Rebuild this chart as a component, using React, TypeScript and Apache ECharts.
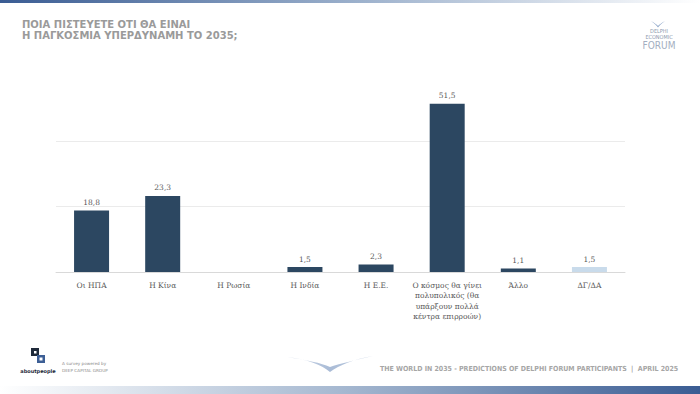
import React, { useEffect, useRef } from "react";
import * as echarts from "echarts";

const categories = [
  "Οι ΗΠΑ",
  "Η Κίνα",
  "Η Ρωσία",
  "Η Ινδία",
  "Η Ε.Ε.",
  "Ο κόσμος θα γίνει\nπολυπολικός (θα\nυπάρξουν πολλά\nκέντρα επιρροών)",
  "Άλλο",
  "ΔΓ/ΔΑ",
];
const values = [18.8, 23.3, 0, 1.5, 2.3, 51.5, 1.1, 1.5];
const barColors = ["#2c4761", "#2c4761", "#2c4761", "#2c4761", "#2c4761", "#2c4761", "#2c4761", "#c9dbeb"];
const titleLines = ["ΠΟΙΑ ΠΙΣΤΕΥΕΤΕ ΟΤΙ ΘΑ ΕΙΝΑΙ", "Η ΠΑΓΚΟΣΜΙΑ ΥΠΕΡΔΥΝΑΜΗ ΤΟ 2035;"];
const footerText = "THE WORLD IN 2035 - PREDICTIONS OF DELPHI FORUM PARTICIPANTS  |  APRIL 2025";

const swooshD = "M0,1 C20,3 35,9 43,16 C52,9 68,3 86,0 C68,4 52,8 43,11 C34,7 20,4 0,1 Z";
const chevronD = "M0,0 C4,2 6,4 7,5 C8,4 10,2 14,0 C10,3 8,5 7,6.5 C6,5 4,3 0,0 Z";
let registered = false;
function registerShapes() {
  if (registered) return;
  registered = true;
  echarts.graphic.registerShape("swoosh", echarts.graphic.extendPath(swooshD, {}) as any);
  echarts.graphic.registerShape("chevron", echarts.graphic.extendPath(chevronD, {}) as any);
}

export default function App() {
  const ref = useRef<HTMLDivElement>(null);
  useEffect(() => {
    if (!ref.current) return;
    registerShapes();
    const chart = echarts.init(ref.current, undefined, { renderer: "svg" });
    const serif = "'DejaVu Serif', serif";
    chart.setOption({
      animation: false,
      backgroundColor: "#ffffff",
      grid: { left: 56, right: 75, top: 76, bottom: 122 },
      xAxis: {
        type: "category",
        data: categories,
        axisLine: { show: true, lineStyle: { color: "#d9d9d9", width: 1 } },
        axisTick: { show: false },
        axisLabel: {
          fontSize: 7.5,
          color: "#595959",
          fontFamily: serif,
          lineHeight: 10.5,
          margin: 8,
          interval: 0,
        },
      },
      yAxis: {
        type: "value",
        min: 0,
        max: 60,
        interval: 20,
        axisLabel: { show: false },
        axisLine: { show: false },
        axisTick: { show: false },
        splitLine: {
          show: true,
          lineStyle: { color: ["rgba(0,0,0,0)", "#ebebeb", "#ebebeb", "rgba(0,0,0,0)"], width: 1 },
        },
      },
      series: [
        {
          type: "bar",
          barWidth: 35,
          data: values.map((v, i) => ({ value: v, itemStyle: { color: barColors[i] } })),
          label: {
            show: true,
            position: "top",
            distance: 4,
            fontSize: 7.5,
            fontFamily: serif,
            color: "#595959",
            formatter: (p: any) => (p.value ? String(p.value).replace(".", ",") : ""),
          },
        },
      ],
      graphic: [
        {
          type: "rect",
          shape: { x: 0, y: 0, width: 700, height: 3 },
          style: {
            fill: new echarts.graphic.LinearGradient(0, 0, 1, 0, [
              { offset: 0, color: "#3a5c93" },
              { offset: 0.5, color: "#9aafcb" },
              { offset: 1, color: "#ffffff" },
            ]),
          },
        },
        {
          type: "rect",
          shape: { x: 0, y: 386, width: 700, height: 8 },
          style: {
            fill: new echarts.graphic.LinearGradient(0, 0, 1, 0, [
              { offset: 0, color: "#ffffff" },
              { offset: 0.5, color: "#a3b6cf" },
              { offset: 1, color: "#3a5c93" },
            ]),
          },
        },
        {
          type: "text",
          x: 22,
          y: 19,
          style: {
            text: titleLines.join("\n"),
            fontFamily: "'DejaVu Sans', sans-serif",
            fontWeight: "bold",
            fontSize: 10,
            lineHeight: 11,
            fill: "#9a9a9a",
          },
        },
        // Delphi logo
        {
          type: "chevron",
          x: 651,
          y: 21,
          style: { fill: "#8aa3c7" },
        },
        {
          type: "text",
          x: 659,
          y: 28,
          style: {
            text: "DELPHI\nECONOMIC",
            fontFamily: "'DejaVu Sans Condensed', 'DejaVu Sans', sans-serif",
            fontSize: 5.5,
            lineHeight: 6,
            align: "center",
            fill: "#8c98ad",
          },
        },
        {
          type: "text",
          x: 659,
          y: 40,
          style: {
            text: "FORUM",
            fontFamily: "'DejaVu Sans Condensed', 'DejaVu Sans', sans-serif",
            fontSize: 10,
            fontWeight: 200,
            align: "center",
            fill: "#a3aec0",
          },
        },
        // aboutpeople logo
        { type: "rect", shape: { x: 31, y: 348, width: 8, height: 8 }, style: { fill: "#1f2a3a" } },
        { type: "rect", shape: { x: 34, y: 351, width: 2.5, height: 2.5 }, style: { fill: "#ffffff" } },
        { type: "rect", shape: { x: 37, y: 355, width: 8, height: 8 }, style: { fill: "#3d5f95" } },
        { type: "rect", shape: { x: 39.5, y: 357.5, width: 3, height: 3 }, style: { fill: "#ffffff" } },
        {
          type: "text",
          x: 38,
          y: 368,
          style: {
            text: "aboutpeople",
            fontFamily: "'DejaVu Sans', sans-serif",
            fontWeight: "bold",
            fontSize: 5,
            align: "center",
            fill: "#1f2a3a",
          },
        },
        {
          type: "text",
          x: 62,
          y: 360,
          style: {
            text: "A survey powered by\nDEEP CAPITAL GROUP",
            fontFamily: "'DejaVu Sans', sans-serif",
            fontSize: 4.2,
            lineHeight: 7,
            fill: "#8a8a8a",
          },
        },
        // swoosh
        {
          type: "swoosh",
          x: 287,
          y: 356,
          style: {
            fill: new echarts.graphic.LinearGradient(0, 0, 1, 0, [
              { offset: 0, color: "#d3dcea" },
              { offset: 0.5, color: "#a9bbd6" },
              { offset: 1, color: "#c3d0e3" },
            ]),
          },
        },
        {
          type: "text",
          x: 380,
          y: 365,
          style: {
            text: footerText,
            fontFamily: "'DejaVu Sans Condensed', 'DejaVu Sans', sans-serif",
            fontWeight: "bold",
            fontSize: 7,
            fill: "#a6a6a6",
          },
        },
      ],
    });
    return () => chart.dispose();
  }, []);
  return (
    <div
      ref={ref}
      style={{ position: "fixed", left: 0, top: 0, width: 700, height: 394 }}
    />
  );
}
